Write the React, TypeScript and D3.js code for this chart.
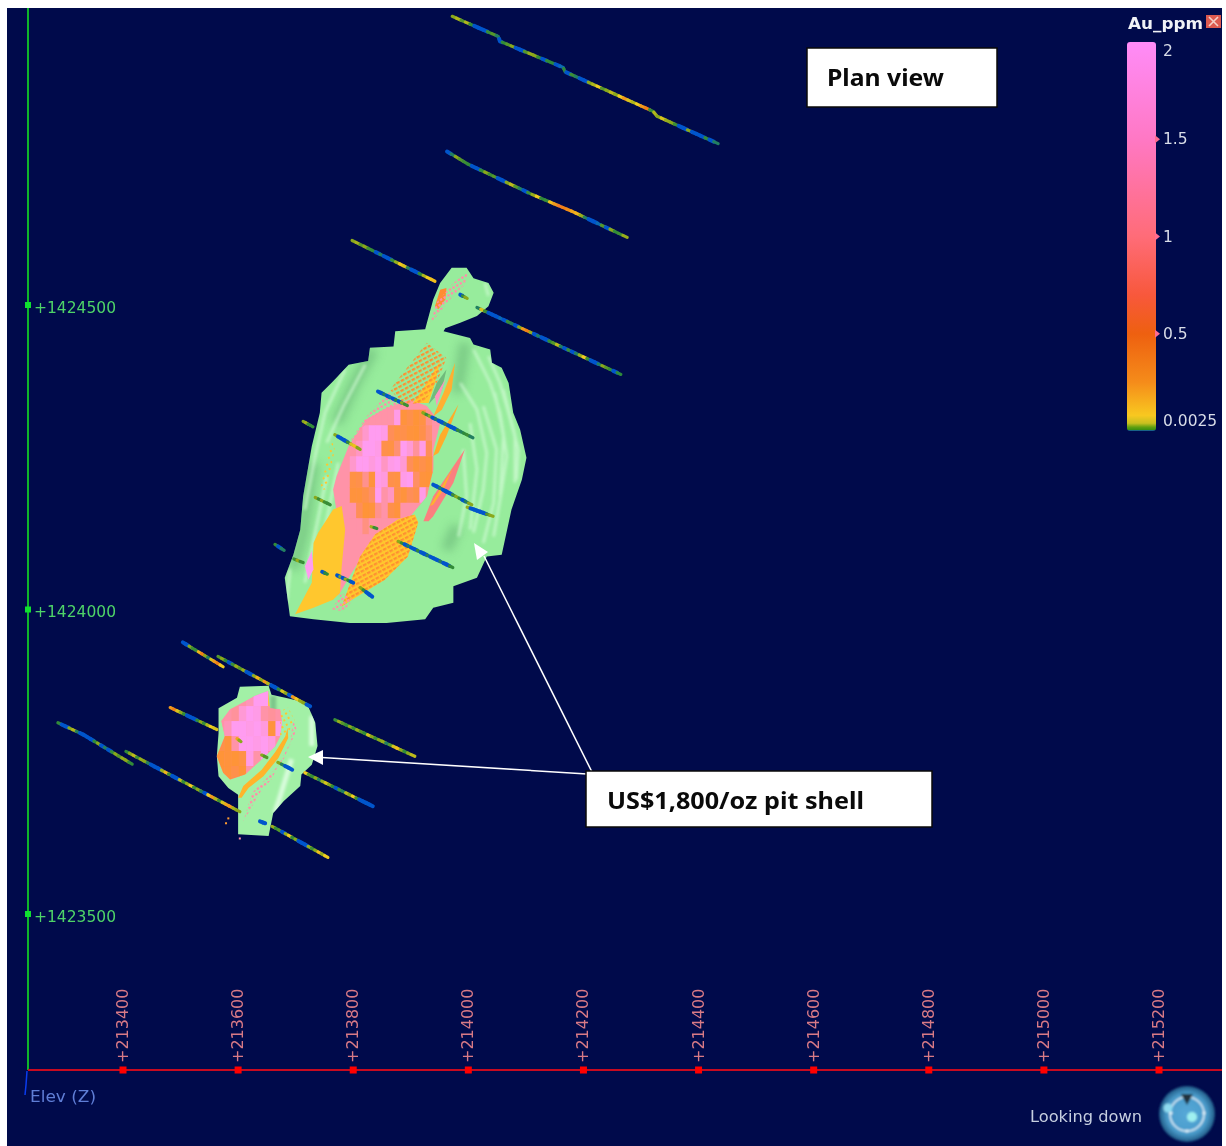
import React from "react";
import * as d3 from "d3";

type P = [number, number];

const xTicks = [213400, 213600, 213800, 214000, 214200, 214400, 214600, 214800, 215000, 215200];
const yTicks = [1424500, 1424000, 1423500];
const legendTicks = [2, 1.5, 1, 0.5, 0.0025];
const legendGrades = [2, 1.5, 1, 0.7, 0.5, 0.25, 0.08, 0.04, 0.02, 0.006, 0];
const legendColours = ["#ff8cf8", "#ff78c4", "#ff6c78", "#f8583c", "#ee6010", "#f58c1a", "#f8c820", "#c8c020", "#60a010", "#3a9010", "#0040e0"];

const shellMain: P[] = [[213925,1424460],[213939,1424509],[213951,1424536],[213971,1424561],[213997,1424561],[214009,1424544],[214035,1424536],[214044,1424520],[214035,1424498],[214015,1424482],[213986,1424471],[213960,1424462],[213957,1424457],[214003,1424446],[214009,1424435],[214038,1424427],[214041,1424405],[214058,1424397],[214070,1424372],[214078,1424323],[214090,1424295],[214101,1424249],[214093,1424213],[214075,1424164],[214058,1424090],[214032,1424087],[214015,1424052],[213974,1424038],[213974,1424011],[213939,1424003],[213925,1423984],[213858,1423978],[213794,1423978],[213731,1423984],[213690,1423989],[213681,1424052],[213696,1424090],[213708,1424131],[213713,1424186],[213728,1424268],[213742,1424323],[213745,1424356],[213765,1424375],[213792,1424402],[213826,1424408],[213829,1424430],[213870,1424432],[213873,1424457]];
const shellSouth: P[] = [[213598,1423855],[213603,1423873],[213653,1423875],[213658,1423860],[213682,1423855],[213719,1423847],[213734,1423814],[213738,1423776],[213728,1423745],[213710,1423729],[213708,1423710],[213679,1423685],[213661,1423666],[213653,1423628],[213600,1423631],[213600,1423669],[213600,1423696],[213583,1423707],[213566,1423726],[213563,1423759],[213566,1423797],[213566,1423838]];

const ridgesMainLight: P[][] = [
  [[214035,1424416],[214055,1424372],[214070,1424323],[214087,1424263],[214084,1424213]],
  [[214009,1424427],[214038,1424372],[214055,1424323],[214067,1424252],[214058,1424197],[214044,1424120]],
  [[213986,1424372],[214015,1424328],[214032,1424257],[214026,1424197],[214009,1424126]],
  [[214061,1424361],[214081,1424285],[214081,1424208]],
  [[214046,1424356],[214061,1424285],[214055,1424186]],
  [[214026,1424334],[214049,1424263],[214044,1424175],[214026,1424109]],
  [[214003,1424306],[214015,1424230],[214003,1424131]],
  [[213991,1424263],[213997,1424186],[213983,1424120]],
  [[213786,1424394],[213751,1424323],[213734,1424252],[213716,1424164]],
  [[213821,1424402],[213783,1424334],[213754,1424274]],
  [[213754,1424219],[213734,1424126],[213716,1424044]],
  [[213774,1424241],[213751,1424131]],
  [[213690,1424066],[213684,1424011]],
  [[214029,1424536],[214035,1424515]],
];
const ridgesSouthLight: P[][] = [
  [[213728,1423825],[213728,1423776]],
  [[213693,1423754],[213664,1423666]],
];
const ridgesMainDark: P[][] = [
  [[213994,1424438],[213988,1424399],[213980,1424356]],
  [[213835,1424427],[213803,1424372],[213771,1424306]],
  [[213731,1424241],[213713,1424126],[213696,1424066]],
  [[213980,1424137],[213962,1424098]],
];
const ridgesSouthDark: P[][] = [[[213661,1423858],[213661,1423825]]];

const lensMain: P[] = [[213774,1424022],[213780,1424109],[213765,1424197],[213771,1424219],[213792,1424268],[213823,1424312],[213858,1424331],[213899,1424345],[213928,1424334],[213951,1424306],[213939,1424263],[213939,1424230],[213928,1424186],[213899,1424153],[213864,1424137],[213823,1424098],[213794,1424055]];
const lensSouth: P[] = [[213571,1423817],[213586,1423836],[213612,1423849],[213629,1423858],[213652,1423866],[213655,1423838],[213673,1423836],[213676,1423814],[213673,1423792],[213664,1423775],[213641,1423754],[213612,1423729],[213586,1423721],[213574,1423732],[213563,1423759],[213577,1423792]];

const blocksMainOrigin: P = [213794, 1424328];
const blocksMainStep: P = [11, 25.45];
const blocksMain = [
  [1.2,1.2,1.2,1.2,1.2,1.2,1.2,1.9,0.4,0.5,0.35,0.45,1,1.2],
  [1.2,1.2,1.6,2,2,1.9,0.6,0.45,0.5,0.4,0.35,0.5,0.8,1.2],
  [1.2,1.5,2,2,1.9,0.5,0.45,0.8,2,1.7,1.1,1.9,0.6,1.2],
  [1.6,2,2,1.8,2,1.5,1.9,2,1.7,0.6,0.4,0.5,0.4,0.9],
  [0.45,0.5,1,0.4,1.9,1.8,0.5,0.45,1.9,2,0.7,0.4,0.35,0.45],
  [0.4,0.4,0.5,0.7,2,1.2,1.5,0.5,0.4,0.6,0.5,1.9,1,1.2],
  [1.2,0.6,0.35,0.4,1,1.2,0.5,0.4,1.2,1.2,1.2,1.2,1.2,1.2],
  [1.2,1.2,0.9,1.2,1.2,1.2,1.2,1.2,1.2,1.2,1.2,1.2,1.2,1.2],
];
const blocksSouthOrigin: P = [213563, 1423866];
const blocksSouthStep: P = [12.74, 24.6];
const blocksSouth = [
  [1.2,1.2,1.2,1.2,1.4,2,2,0.12,2],
  [1.2,1.2,1.1,1.7,2,1.9,1.2,1.1,1.2],
  [1.2,1.4,2,2,1.9,2,1.8,0.4,1.9],
  [0.5,0.4,1.2,2,2,1.9,2,1.8,1.2],
  [0.35,0.4,0.35,0.45,1.9,1.2,2,1.2,1.2],
  [0.35,0.4,0.5,0.35,1.2,1.2,1.2,1.2,1.2],
];
const blockGrades = [0.1, 0.35, 0.6, 1.2, 2];
const blockColours = ["#ffcc2e", "#ff9438", "#ff8e58", "#ff93a8", "#ff9cf0"];

const solids: { pts: P[]; fill: string }[] = [
  { fill: "#6fbb7c", pts: [[213931,1424337],[213945,1424372],[213962,1424394],[213954,1424361]] },
  { fill: "#ffc72e", pts: [[213699,1423992],[213728,1424044],[213731,1424109],[213739,1424126],[213765,1424164],[213780,1424170],[213786,1424131],[213780,1424071],[213777,1424027],[213765,1424016],[213731,1424003]] },
  { fill: "#ff9cf0", pts: [[213716,1424071],[213728,1424096],[213731,1424066],[213722,1424049]] },
  { fill: "#ffb030", pts: [[213939,1424317],[213957,1424356],[213977,1424405],[213971,1424361],[213954,1424328]] },
  { fill: "#ff93c0", pts: [[213942,1424350],[213960,1424378],[213945,1424334]] },
  { fill: "#ffac2a", pts: [[213939,1424252],[213951,1424287],[213983,1424337],[213962,1424285],[213948,1424257]] },
  { fill: "#fb7f7f", pts: [[213922,1424145],[213939,1424186],[213994,1424263],[213974,1424208],[213939,1424153],[213931,1424145]] },
  { fill: "#ffb030", pts: [[213933,1424170],[213968,1424224],[213974,1424235],[213957,1424197],[213939,1424172]] },
  { fill: "#ff8c30", pts: [[213942,1424498],[213951,1424525],[213962,1424528],[213960,1424509],[213948,1424493]] },
  { fill: "#ffb42a", pts: [[213600,1423691],[213609,1423710],[213641,1423737],[213664,1423765],[213682,1423792],[213686,1423806],[213687,1423789],[213670,1423756],[213644,1423726],[213618,1423707],[213606,1423691]] },
  { fill: "#ffc72e", pts: [[213780,1424005],[213798,1424016],[213855,1424049],[213895,1424087],[213913,1424143],[213907,1424156],[213878,1424148],[213838,1424123],[213812,1424087],[213794,1424041]] },
  { fill: "#ffc72e", pts: [[213904,1424339],[213928,1424372],[213951,1424408],[213942,1424372],[213931,1424339]] },
];
const dotted: { pts: P[]; kind: string }[] = [
  { kind: "dOrange", pts: [[213780,1424005],[213798,1424016],[213855,1424049],[213895,1424087],[213913,1424143],[213907,1424156],[213878,1424148],[213838,1424123],[213812,1424087],[213794,1424041]] },
  { kind: "dPink", pts: [[213763,1424000],[213780,1424027],[213800,1424016],[213783,1423997]] },
  { kind: "dOrange", pts: [[213864,1424361],[213887,1424389],[213928,1424438],[213962,1424413],[213945,1424372],[213922,1424339],[213887,1424337]] },
  { kind: "dPink", pts: [[213789,1424268],[213823,1424317],[213864,1424358],[213887,1424334],[213852,1424328],[213818,1424301]] },
  { kind: "dPink", pts: [[213934,1424471],[213945,1424504],[213974,1424536],[214000,1424556],[213994,1424534],[213968,1424509],[213945,1424482]] },
  { kind: "dPink", pts: [[213609,1423652],[213624,1423699],[213653,1423726],[213679,1423754],[213702,1423803],[213696,1423817],[213690,1423781],[213658,1423721],[213641,1423704]] },
  { kind: "dYellow", pts: [[213673,1423833],[213687,1423839],[213699,1423817],[213684,1423792],[213673,1423792]] },
  { kind: "dYellow", pts: [[213742,1424197],[213762,1424279],[213768,1424263],[213754,1424197]] },
];
const strayPoints: P[] = [[213583,1423657],[213579,1423649],[213603,1423624]];

const holes: { path: P[]; grades: number[] }[] = [
  { path: [[213972,1424974],[214052,1424941],[214055,1424933],[214165,1424890],[214168,1424883],[214321,1424818],[214328,1424810],[214434,1424765]], grades: [0.02,0.05,0.01,0.05,0.003,0.0005,0.0005,0.0005,0.004,0.01,0.002,0.0005,0.003,0.01,0.02,0.0005,0.0005,0.01,0.03,0.02,0.003,0.0005,0.003,0.0025,0.0005,0.001,0.0025,0.0005,0.005,0.002,0.0005,0.0005,0.02,0.05,0.1,0.01,0.02,0.06,0.02,0.1,0.3,0.08,0.05,0.1,0.3,0.4,0.004,0.05,0.02,0.08,0.03,0.02,0.005,0.0005,0.0005,0.02,0.0005,0.0005,0.0005,0.003,0.0005,0.002] },
  { path: [[213963,1424752],[214000,1424731],[214112,1424681],[214182,1424653],[214276,1424611]], grades: [0.0005,0.002,0.02,0.01,0.005,0.003,0.0005,0.0005,0.003,0.02,0.005,0.01,0.0005,0.0005,0.02,0.06,0.01,0.002,0.0005,0.005,0.03,0.1,0.0025,0.004,0.15,0.3,0.5,0.4,0.35,0.25,0.2,0.03,0.002,0.0005,0.0005,0.001,0.01,0.0005,0.02,0.003,0.005,0.03] },
  { path: [[213798,1424606],[213942,1424539]], grades: [0.02,0.04,0.01,0.02,0.005,0.003,0.0005,0.002,0.0005,0.0005,0.004,0.03,0.12,0.08,0.002,0.0005,0.0005,0.003,0.05,0.1,0.15] },
  { path: [[213986,1424517],[213998,1424511]], grades: [0.0005,0.004,0.02] },
  { path: [[214015,1424496],[214265,1424386]], grades: [0.002,0.08,0.005,0.0005,0.0005,0.0005,0.001,0.0005,0.004,0.002,0.0005,0.02,0.3,0.4,0.03,0.0005,0.002,0.0005,0.0005,0.003,0.01,0.06,0.002,0.0005,0.005,0.0005,0.002,0.03,0.1,0.004,0.0005,0.0005,0.002,0.02,0.01,0.003,0.0005,0.0025] },
  { path: [[213843,1424358],[213894,1424335]], grades: [0.0005,0.0005,0.002,0.0005,0.001,0.0005,0.003,0.0005,0.02,0.005] },
  { path: [[213921,1424323],[214008,1424282]], grades: [0.02,0.004,0.02,0.0005,0.002,0.0005,0.0005,0.002,0.0005,0.0005,0.0005,0.003,0.002,0.0025,0.005,0.002] },
  { path: [[213713,1424309],[213730,1424300]], grades: [0.02,0.04,0.004,0.003] },
  { path: [[213768,1424287],[213812,1424263]], grades: [0.02,0.0005,0.0005,0.0005,0.004,0.08,0.15,0.02] },
  { path: [[213734,1424184],[213760,1424172]], grades: [0.02,0.005,0.03,0.005,0.004] },
  { path: [[213939,1424205],[214006,1424172]], grades: [0.0005,0.0005,0.002,0.0005,0.0005,0.0005,0.005,0.02,0.003,0.0005,0.002,0.02] },
  { path: [[213998,1424168],[214043,1424153]], grades: [0.03,0.0005,0.0005,0.0005,0.0005,0.0005,0.01,0.02] },
  { path: [[213664,1424107],[213680,1424097]], grades: [0.003,0.0005,0.002] },
  { path: [[213697,1424083],[213713,1424077]], grades: [0.005,0.03,0.004] },
  { path: [[213746,1424062],[213755,1424058]], grades: [0.0005,0.003] },
  { path: [[213772,1424056],[213800,1424044]], grades: [0.0005,0.02,0.0005,0.03,0.0025,0.0005] },
  { path: [[213812,1424036],[213833,1424021]], grades: [0.02,0.004,0.0005,0.0005] },
  { path: [[213831,1424136],[213841,1424133]], grades: [0.04,0.004] },
  { path: [[213878,1424112],[213973,1424069]], grades: [0.02,0.003,0.0005,0.002,0.0005,0.0005,0.003,0.0005,0.0005,0.002,0.0005,0.0005,0.0005,0.002,0.0005,0.0005,0.003] },
  { path: [[213504,1423946],[213574,1423906]], grades: [0.0005,0.0005,0.02,0.005,0.004,0.2,0.4,0.02,0.002,0.08,0.3,0.4,0.1] },
  { path: [[213565,1423923],[213725,1423841]], grades: [0.01,0.02,0.0025,0.0005,0.005,0.03,0.01,0.03,0.0005,0.0005,0.03,0.2,0.02,0.3,0.05,0.0005,0.0005,0.003,0.08,0.02,0.0005,0.3,0.1,0.03,0.02,0.0005] },
  { path: [[213482,1423839],[213563,1423803]], grades: [0.3,0.4,0.08,0.02,0.003,0.0005,0.0005,0.0005,0.003,0.02,0.004,0.05,0.1,0.08] },
  { path: [[213287,1423814],[213330,1423795],[213339,1423790],[213416,1423746]], grades: [0.003,0.0005,0.0005,0.02,0.05,0.002,0.0005,0.0005,0.0005,0.0005,0.003,0.02,0.0005,0.002,0.0005,0.004,0.02,0.01,0.03,0.02,0.003] },
  { path: [[213405,1423767],[213603,1423668]], grades: [0.003,0.02,0.06,0.005,0.03,0.02,0.002,0.0005,0.0005,0.0005,0.03,0.2,0.005,0.0005,0.0005,0.06,0.004,0.03,0.1,0.004,0.02,0.002,0.0005,0.1,0.3,0.05,0.005,0.08,0.25,0.3,0.04,0.02] },
  { path: [[213768,1423819],[213907,1423759]], grades: [0.004,0.03,0.01,0.003,0.02,0.005,0.03,0.01,0.003,0.08,0.02,0.004,0.02,0.03,0.002,0.01,0.08,0.15,0.02,0.003,0.02,0.06] },
  { path: [[213669,1423749],[213694,1423737]], grades: [0.02,0.002,0.0005,0.0005] },
  { path: [[213716,1423732],[213834,1423677]], grades: [0.1,0.01,0.003,0.02,0.002,0.03,0.08,0.02,0.003,0.0005,0.005,0.002,0.06,0.02,0.1,0.004,0.0005,0.0005,0.0005,0.0005] },
  { path: [[213638,1423652],[213647,1423649]], grades: [0.0005,0.0005] },
  { path: [[213659,1423644],[213756,1423593]], grades: [0.03,0.004,0.01,0.0005,0.03,0.1,0.003,0.02,0.0005,0.0005,0.0005,0.03,0.005,0.02,0.15,0.03,0.1] },
  { path: [[213641,1423761],[213650,1423757]], grades: [0.02,0.01] },
  { path: [[213598,1423788],[213605,1423783]], grades: [0.25,0.02] },
];
const gradeStops = [0, 0.001, 0.0025, 0.02, 0.1, 0.4, 1, 2];
const gradeColours = ["#0040e8", "#0a6ab0", "#2f8a3a", "#8aa81a", "#f0cc20", "#f08018", "#ff6a70", "#ff90f8"];

const x = d3.scaleLinear([213400, 215200], [123, 1159]);
const y = d3.scaleLinear([1423500, 1424500], [914, 305]);
const legendY = d3.scaleLinear([0, 2], [431, 42]);
const legendLabelY = (g: number) => Math.min(420, Math.max(50, legendY(g) - 1));
const gradeColour = d3.scaleLinear<string>().domain(gradeStops).range(gradeColours).interpolate(d3.interpolateRgb).clamp(true);
const blockColour = d3.scaleLinear<string>().domain(blockGrades).range(blockColours).clamp(true);
const lineGen = d3.line<P>((p) => x(p[0]), (p) => y(p[1]));
const ringGen = (p: P[]) => (lineGen(p) as string) + "Z";

function Blocks({ origin, step, rows, clip }: { origin: P; step: P; rows: number[][]; clip: string }) {
  return (
    <g clipPath={`url(#${clip})`}>
      {rows.flatMap((row, r) =>
        row.map((g, c) => {
          const e0 = origin[0] + c * step[0];
          const n0 = origin[1] - r * step[1];
          return (
            <rect
              key={`${r}-${c}`}
              x={x(e0)}
              y={y(n0)}
              width={x(e0 + step[0]) - x(e0) + 0.4}
              height={y(n0 - step[1]) - y(n0) + 0.4}
              fill={blockColour(g)}
            />
          );
        })
      )}
    </g>
  );
}

function Hole({ path, grades }: { path: P[]; grades: number[] }) {
  const dists = path.reduce<number[]>((a, p, i) => {
    if (i === 0) return [0];
    const q = path[i - 1];
    return [...a, a[i - 1] + Math.hypot(p[0] - q[0], p[1] - q[1])];
  }, []);
  const total = dists[dists.length - 1];
  const at = (d: number): P => {
    const i = Math.max(1, d3.bisectLeft(dists, d));
    const t = (d - dists[i - 1]) / (dists[i] - dists[i - 1] || 1);
    return [path[i - 1][0] + t * (path[i][0] - path[i - 1][0]), path[i - 1][1] + t * (path[i][1] - path[i - 1][1])];
  };
  return (
    <g>
      {grades.map((g, i) => {
        const a = (i / grades.length) * total;
        const b = ((i + 1) / grades.length) * total;
        const pts: P[] = [at(a), ...path.filter((_, k) => dists[k] > a && dists[k] < b), at(b)];
        return <path key={i} d={lineGen(pts) as string} fill="none" stroke={gradeColour(g)} strokeWidth={g < 0.001 ? 4 : 3.2} strokeLinecap="round" strokeLinejoin="round" />;
      })}
    </g>
  );
}

export default function App() {
  const axisFont = '"DejaVu Sans", sans-serif';
  const boxFont = '"Noto Sans", "Open Sans", sans-serif';
  return (
    <svg width={1226} height={1146} style={{ position: "absolute", left: 0, top: 0, display: "block" }}>
      <defs>
        <clipPath id="clipMain"><path d={ringGen(shellMain)} /></clipPath>
        <clipPath id="clipSouth"><path d={ringGen(shellSouth)} /></clipPath>
        <clipPath id="clipLensMain"><path d={ringGen(lensMain)} /></clipPath>
        <clipPath id="clipLensSouth"><path d={ringGen(lensSouth)} /></clipPath>
        <filter id="soft" x="-20%" y="-20%" width="140%" height="140%"><feGaussianBlur stdDeviation="1.8" /></filter>
        <filter id="softer" x="-30%" y="-30%" width="160%" height="160%"><feGaussianBlur stdDeviation="5" /></filter>
        <filter id="tiny" x="-5%" y="-5%" width="110%" height="110%"><feGaussianBlur stdDeviation="0.45" /></filter>
        <filter id="comp" x="-10%" y="-10%" width="120%" height="120%"><feGaussianBlur stdDeviation="0.8" /></filter>
        <pattern id="dOrange" width="5" height="4.4" patternUnits="userSpaceOnUse" patternTransform="rotate(-28)">
          <rect width="3.6" height="2.2" fill="#ff8f30" />
        </pattern>
        <pattern id="dPink" width="4.2" height="4.2" patternUnits="userSpaceOnUse" patternTransform="rotate(-30)">
          <rect width="2.4" height="2.4" fill="#ff8fa8" />
        </pattern>
        <pattern id="dYellow" width="5" height="5" patternUnits="userSpaceOnUse" patternTransform="rotate(-30)">
          <rect width="2" height="2" fill="#ffc72e" />
        </pattern>
        <linearGradient id="legendGrad" x1="0" y1="0" x2="0" y2="1">
          {legendGrades.map((g, i) => (
            <stop key={g} offset={(legendY(g) - 42) / (431 - 42)} stopColor={legendColours[i]} />
          ))}
        </linearGradient>
        <radialGradient id="compassGrad" cx="50%" cy="50%" r="50%">
          <stop offset="0" stopColor="#56a8d8" />
          <stop offset="0.72" stopColor="#4a9ccb" />
          <stop offset="1" stopColor="#1f5a86" />
        </radialGradient>
      </defs>

      <rect x={7} y={8} width={1215} height={1138} fill="#000a4b" />

      <g filter="url(#tiny)">
        <path d={ringGen(shellMain)} fill="#97ec9c" />
        <g clipPath="url(#clipMain)" fill="none">
          <g filter="url(#softer)" opacity={0.55}>
            {ridgesMainDark.map((r, i) => (
              <path key={i} d={lineGen(r) as string} stroke="#62ad72" strokeWidth={11} />
            ))}
          </g>
          <g filter="url(#soft)" opacity={0.75}>
            {ridgesMainLight.map((r, i) => (
              <path key={i} d={lineGen(r) as string} stroke="#d4fcd8" strokeWidth={2.6} />
            ))}
          </g>
        </g>
        <path d={ringGen(shellSouth)} fill="#a2f0a6" />
        <g clipPath="url(#clipSouth)" fill="none">
          <g filter="url(#soft)">
            {ridgesSouthLight.map((r, i) => (
              <path key={i} d={lineGen(r) as string} stroke="#d8fcdc" strokeWidth={5} />
            ))}
            {ridgesSouthDark.map((r, i) => (
              <path key={i} d={lineGen(r) as string} stroke="#7cc68a" strokeWidth={6} />
            ))}
          </g>
        </g>

        <path d={ringGen(lensMain)} fill="#ff93a8" />
        <Blocks origin={blocksMainOrigin} step={blocksMainStep} rows={blocksMain} clip="clipLensMain" />
        <path d={ringGen(lensSouth)} fill="#ff93a8" />
        <Blocks origin={blocksSouthOrigin} step={blocksSouthStep} rows={blocksSouth} clip="clipLensSouth" />

        {solids.map((s, i) => (
          <path key={i} d={ringGen(s.pts)} fill={s.fill} />
        ))}
        {dotted.map((s, i) => (
          <path key={i} d={ringGen(s.pts)} fill={`url(#${s.kind})`} />
        ))}
        {strayPoints.map((p, i) => (
          <rect key={i} x={x(p[0]) - 1} y={y(p[1]) - 1} width={2} height={2} fill={i === 2 ? "#ff8fa8" : "#ff9c30"} />
        ))}
        {holes.map((h, i) => (
          <Hole key={i} path={h.path} grades={h.grades} />
        ))}
      </g>

      {/* axes */}
      <line x1={28} y1={8} x2={28} y2={1070} stroke="#0fb52a" strokeWidth={2} />
      <line x1={28} y1={1070} x2={1222} y2={1070} stroke="#c80a20" strokeWidth={2} />
      <path d="M27,1071 L26,1085 L25,1095" fill="none" stroke="#0a3cf0" strokeWidth={1.5} />
      {yTicks.map((t) => (
        <g key={t}>
          <rect x={25} y={y(t) - 3} width={6} height={6} fill="#10e030" />
          <text x={34} y={y(t) + 7.5} fontFamily={axisFont} fontSize={15.5} fill="#4ed468">{`+${t}`}</text>
        </g>
      ))}
      {xTicks.map((t) => (
        <g key={t}>
          <rect x={x(t) - 3.5} y={1066.5} width={7} height={7} fill="#ff0000" />
          <text transform={`translate(${x(t) + 5},1063) rotate(-90)`} fontFamily={axisFont} fontSize={16} fill="#d87a86">{`+${t}`}</text>
        </g>
      ))}
      <text x={30} y={1102} fontFamily={axisFont} fontSize={16} fill="#5f7ed6" textLength={66} lengthAdjust="spacingAndGlyphs">Elev (Z)</text>
      <text x={1030} y={1122} fontFamily={axisFont} fontSize={16} fill="#c6cfe0" textLength={112} lengthAdjust="spacingAndGlyphs">Looking down</text>

      {/* compass */}
      <g filter="url(#comp)">
        <circle cx={1187} cy={1114} r={28} fill="url(#compassGrad)" />
        <circle cx={1187} cy={1114} r={17} fill="none" stroke="#dbeef8" strokeWidth={1.6} />
        <circle cx={1168} cy={1108} r={4.5} fill="#8fdcf0" />
        <circle cx={1192} cy={1117} r={5} fill="#9ff0f0" />
        <path d="M1181,1094 L1193,1094 L1187,1105 Z" fill="#20303c" />
        <circle cx={1171} cy={1113} r={1.6} fill="#e8f6fb" />
        <circle cx={1204} cy={1113} r={1.6} fill="#e8f6fb" />
        <circle cx={1187} cy={1131} r={1.6} fill="#e8f6fb" />
      </g>

      {/* legend */}
      <text x={1128} y={29} fontFamily={axisFont} fontWeight="bold" fontSize={16} fill="#f0f2f6" textLength={75} lengthAdjust="spacingAndGlyphs">Au_ppm</text>
      <rect x={1206} y={15} width={15} height={13} fill="#dc5a50" />
      <path d="M1209,17 L1218,26 M1218,17 L1209,26" stroke="#f4d0c8" strokeWidth={1.6} />
      <rect x={1127} y={42} width={29} height={389} rx={3} fill="url(#legendGrad)" />
      {legendTicks.map((g) => (
        <g key={g}>
          {g !== 2 && g !== 0.0025 && (
            <path d={`M1155,${legendY(g) - 4} L1160,${legendY(g)} L1155,${legendY(g) + 4} Z`} fill="#ff6c90" />
          )}
          <text x={1163} y={legendLabelY(g) + 6} fontFamily={axisFont} fontSize={15.5} fill="#d8dde8">{g}</text>
        </g>
      ))}

      {/* callouts */}
      <line x1={592} y1={772} x2={484} y2={556} stroke="#fff" strokeWidth={1.5} />
      <path d="M474,543 L488,552 L477,560 Z" fill="#fff" />
      <line x1={587} y1={774} x2={322} y2={757.5} stroke="#fff" strokeWidth={1.5} />
      <path d="M308,757 L323,750 L323,765 Z" fill="#fff" />
      <rect x={807} y={48} width={190} height={59} fill="#fff" stroke="#0a0a0a" strokeWidth={1.5} />
      <text x={827} y={86} fontFamily={boxFont} fontWeight="bold" fontSize={24} fill="#0a0a0a" textLength={117} lengthAdjust="spacingAndGlyphs">Plan view</text>
      <rect x={586} y={771} width={346} height={56} fill="#fff" stroke="#0a0a0a" strokeWidth={1.5} />
      <text x={607} y={809} fontFamily={boxFont} fontWeight="bold" fontSize={24} fill="#0a0a0a" textLength={257} lengthAdjust="spacingAndGlyphs">US$1,800/oz pit shell</text>
    </svg>
  );
}
